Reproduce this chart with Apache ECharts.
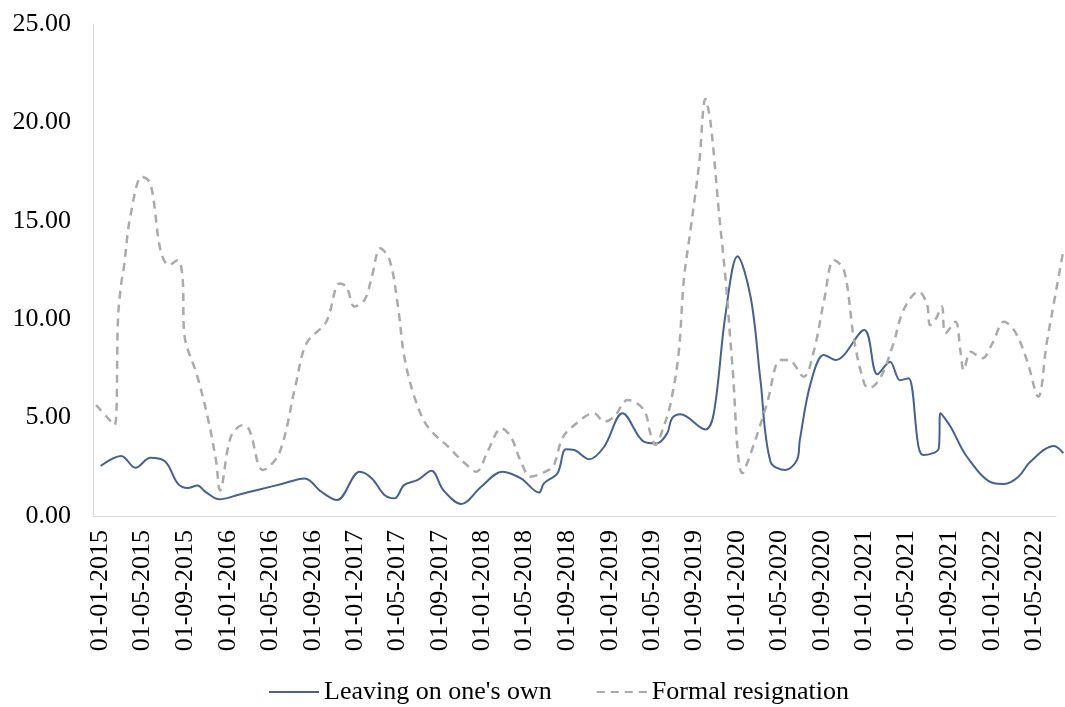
<!DOCTYPE html>
<html>
<head>
<meta charset="utf-8">
<script src="https://cdn.jsdelivr.net/npm/echarts@6/dist/echarts.min.js"></script>
<style>
html,body{margin:0;padding:0;background:#fff;}
#chart{width:1065px;height:707px;}
</style>
</head>
<body>
<div id="chart"></div>
<script>
// Leaving on one's own
const leaveDates = ['2015-01-01','2015-03-01','2015-04-11','2015-05-24','2015-07-06','2015-08-10','2015-09-08','2015-10-06','2015-10-29','2015-12-08',
  '2016-02-01','2016-04-01','2016-06-01','2016-08-09','2016-09-26','2016-11-10','2017-01-14','2017-02-18','2017-03-26','2017-04-24',
  '2017-05-22','2017-06-30','2017-08-08','2017-09-11','2017-11-02','2017-12-29','2018-02-28','2018-04-22','2018-06-13','2018-06-27',
  '2018-08-05','2018-08-29','2018-09-22','2018-11-04','2018-12-17','2019-02-08','2019-04-10','2019-05-17','2019-06-16','2019-06-30',
  '2019-07-24','2019-10-04','2019-10-28','2019-12-01','2020-01-04','2020-02-11','2020-03-10','2020-04-08','2020-05-21','2020-06-23',
  '2020-07-01','2020-08-01','2020-09-08','2020-10-12','2021-01-02','2021-02-09','2021-03-17','2021-04-15','2021-05-09','2021-06-07',
  '2021-06-21','2021-08-04','2021-08-09','2021-09-07','2021-10-24','2022-01-10','2022-02-08','2022-03-21','2022-04-24','2022-07-01',
  '2022-07-28'];
const leaveValues = [2.54,3.05,2.45,2.96,2.76,1.66,1.42,1.55,1.23,0.85,
  1.08,1.35,1.61,1.91,1.23,0.81,2.25,1.91,1.07,0.90,
  1.58,1.83,2.30,1.32,0.61,1.49,2.25,1.91,1.19,1.66,
  2.17,3.39,3.35,2.88,3.52,5.22,3.78,3.69,4.20,4.96,
  5.17,4.40,5.22,10.3,13.2,11.1,6.9,2.76,2.34,2.85,
  3.86,6.74,8.18,7.93,9.45,7.20,7.84,6.90,7.00,3.52,
  3.10,3.44,5.22,4.54,3.01,1.66,1.63,2.00,2.76,3.56,
  3.19];

// Formal resignation
const resignDates = ['2014-12-19','2015-02-10','2015-02-20','2015-03-01','2015-03-09','2015-03-27','2015-04-30','2015-05-24','2015-06-22','2015-07-16',
  '2015-08-10','2015-08-24','2015-08-29','2015-10-06','2015-11-04','2015-11-28','2015-12-10','2016-01-10','2016-02-14','2016-03-03',
  '2016-04-11','2016-05-28','2016-07-15','2016-08-14','2016-10-10','2016-11-17','2016-12-07','2016-12-30','2017-01-28','2017-02-18',
  '2017-03-14','2017-04-10','2017-05-04','2017-05-22','2017-06-20','2017-07-28','2017-09-25','2017-11-12','2017-12-15','2018-01-18',
  '2018-02-25','2018-03-24','2018-04-22','2018-05-20','2018-07-11','2018-07-26','2018-08-19','2018-09-17','2018-11-18','2018-12-17',
  '2019-01-15','2019-02-23','2019-04-10','2019-04-29','2019-05-13','2019-06-06','2019-06-26','2019-07-19','2019-08-03','2019-08-22',
  '2019-09-16','2019-10-04','2019-10-19','2019-11-12','2019-12-01','2019-12-20','2020-01-18','2020-02-21','2020-03-29','2020-05-06',
  '2020-05-30','2020-07-12','2020-08-11','2020-09-09','2020-10-07','2020-11-05','2020-12-04','2021-01-02','2021-01-16','2021-02-19',
  '2021-03-27','2021-04-25','2021-06-07','2021-07-01','2021-07-10','2021-07-25','2021-08-13','2021-08-23','2021-09-21','2021-10-05',
  '2021-10-15','2021-11-04','2021-12-07','2022-01-05','2022-02-08','2022-03-11','2022-04-14','2022-05-17','2022-06-10','2022-07-04',
  '2022-07-28'];
const resignValues = [5.64,4.62,10.1,11.8,12.67,15.2,17.24,16.9,13.5,12.75,
  13.0,12.16,9.28,7.08,5.05,2.85,1.30,4.03,4.62,4.37,
  2.34,3.19,6.74,8.77,9.87,11.82,11.65,10.64,10.98,12.16,
  13.6,13.0,10.64,8.10,6.06,4.54,3.52,2.68,2.25,3.35,
  4.46,4.03,2.76,2.00,2.34,2.59,3.95,4.54,5.22,4.79,
  5.05,5.90,5.39,4.20,3.61,4.54,5.73,8.27,12.0,14.53,
  17.92,21.2,19.95,15.38,12.0,7.76,2.17,3.69,5.73,7.93,
  7.93,7.08,8.43,10.98,13.0,12.5,8.94,6.74,6.49,7.08,
  8.77,10.47,11.4,10.8,9.70,9.96,10.64,9.28,9.87,8.43,
  7.42,8.35,8.01,8.77,9.87,9.37,7.93,6.06,8.77,11.14,
  13.5];

// x-axis tick labels (every 4 months)
const tickDates = ['2015-01-01','2015-05-01','2015-09-01','2016-01-01','2016-05-01','2016-09-01','2017-01-01','2017-05-01','2017-09-01',
  '2018-01-01','2018-05-01','2018-09-01','2019-01-01','2019-05-01','2019-09-01','2020-01-01','2020-05-01','2020-09-01',
  '2021-01-01','2021-05-01','2021-09-01','2022-01-01','2022-05-01'];
const yTicks = [0,5,10,15,20,25];

function ts(s){const p=s.split('-').map(Number);return Date.UTC(p[0],p[1]-1,p[2]);}
function pad(n){return (n<10?'0':'')+n;}

const font = 'Liberation Serif';
const X0 = ts('2014-12-10'), X1 = ts('2022-07-04');
// plot area: visible axis spans 963px, the lines run on to the picture's right edge (973px)
const axisW = 963, lineW = 973;
const X1ext = X0 + (X1 - X0) * lineW / axisW;

const chart = echarts.init(document.getElementById('chart'));
chart.setOption({
  animation:false,
  backgroundColor:'#fff',
  grid:[
    {left:93,width:axisW,top:24,bottom:191,containLabel:false},
    {left:93,width:lineW,top:24,bottom:191,containLabel:false}
  ],
  legend:{
    left:263, top:674, itemWidth:50, itemHeight:14, itemGap:44,
    itemStyle:{opacity:0},
    textStyle:{fontFamily:font,fontSize:26,color:'#000'},
    data:["Leaving on one's own","Formal resignation"]
  },
  xAxis:[{
    type:'value', gridIndex:0,
    min:X0, max:X1,
    axisLine:{show:true,onZero:false,lineStyle:{color:'#d9d9d9',width:1}},
    axisTick:{show:false},
    splitLine:{show:false},
    axisLabel:{
      customValues: tickDates.map(ts),
      rotate:90, margin:14, fontFamily:font, fontSize:26, color:'#000',
      formatter:function(v){const d=new Date(v);return '01-'+pad(d.getUTCMonth()+1)+'-'+d.getUTCFullYear();}
    }
  },{
    type:'value', gridIndex:1, min:X0, max:X1ext, show:false
  }],
  yAxis:[{
    type:'value', gridIndex:0, min:0, max:25, interval:5,
    axisLine:{show:true,lineStyle:{color:'#d9d9d9',width:1}},
    axisTick:{show:false},
    splitLine:{show:false},
    axisLabel:{fontFamily:font,fontSize:26,color:'#000',margin:22,
      customValues: yTicks,
      formatter:function(v){return v.toFixed(2);}}
  },{
    type:'value', gridIndex:1, min:0, max:25, show:false, splitLine:{show:false}
  }],
  series:[
    {name:"Leaving on one's own",type:'line',xAxisIndex:1,yAxisIndex:1,smooth:0.35,symbol:'none',
     lineStyle:{color:'#46618f',width:2},itemStyle:{color:'#46618f'},
     data:leaveDates.map((d,i)=>[ts(d),leaveValues[i]])},
    {name:"Formal resignation",type:'line',xAxisIndex:1,yAxisIndex:1,smooth:0.35,symbol:'none',
     lineStyle:{color:'#aaaaaa',width:2.5,type:[8,6]},itemStyle:{color:'#aaaaaa'},
     data:resignDates.map((d,i)=>[ts(d),resignValues[i]])}
  ]
});
</script>
</body>
</html>
